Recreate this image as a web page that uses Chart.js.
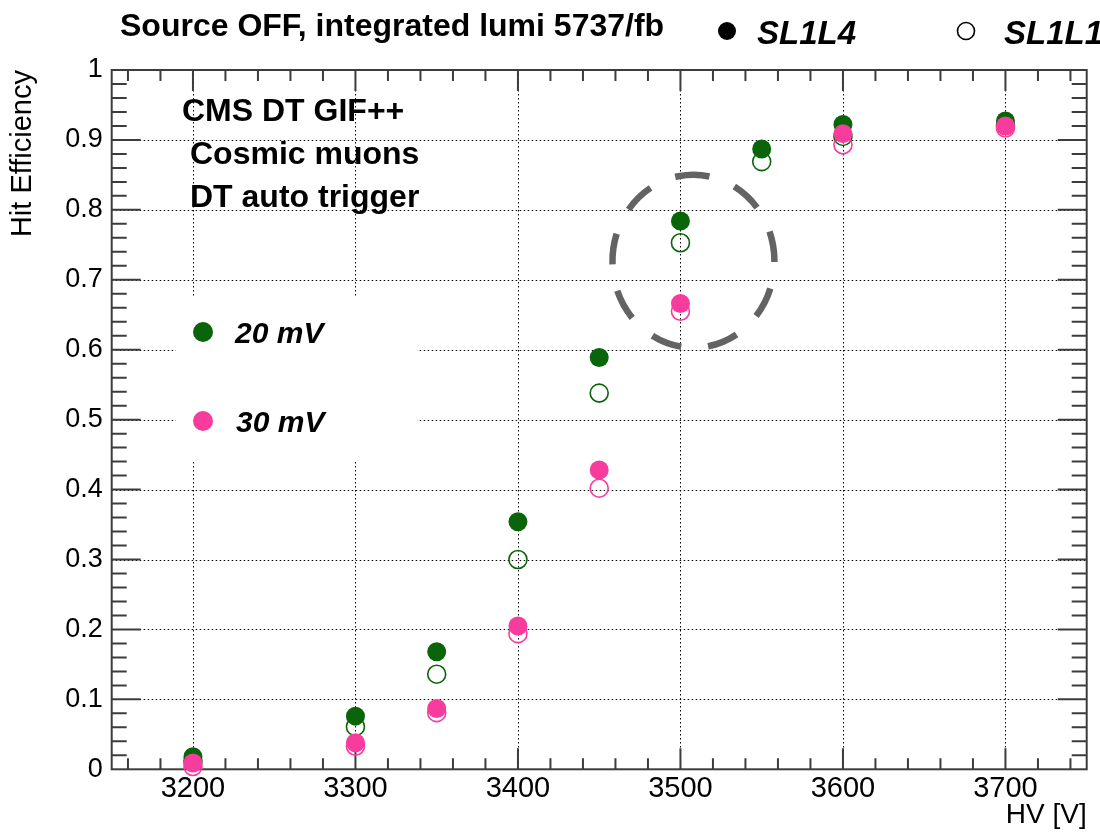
<!DOCTYPE html>
<html><head><meta charset="utf-8">
<script src="https://cdn.jsdelivr.net/npm/chart.js@4.4.0/dist/chart.umd.min.js"></script>
<style>html,body{margin:0;padding:0;background:#fff}#wrap{width:1100px;height:832px}</style>
</head><body><div id="wrap"><canvas id="c" width="1100" height="832"></canvas></div>
<script>
// ---- data ----
const hv20 = [3200, 3300, 3350, 3400, 3450, 3500, 3550, 3600, 3700];
const sl1l4_20mV = [0.018, 0.076, 0.168, 0.354, 0.589, 0.784, 0.887, 0.922, 0.927];
const sl1l1_20mV = [0.012, 0.061, 0.136, 0.300, 0.538, 0.753, 0.869, 0.905, 0.921];
const hv30 = [3200, 3300, 3350, 3400, 3450, 3500, 3600, 3700];
const sl1l4_30mV = [0.009, 0.038, 0.087, 0.205, 0.428, 0.666, 0.909, 0.920];
const sl1l1_30mV = [0.004, 0.033, 0.081, 0.194, 0.402, 0.655, 0.893, 0.917];
const xTicks = [3200, 3300, 3400, 3500, 3600, 3700];
const yTicks = [0, 0.1, 0.2, 0.3, 0.4, 0.5, 0.6, 0.7, 0.8, 0.9, 1];
const yTickLabels = ['0', '0.1', '0.2', '0.3', '0.4', '0.5', '0.6', '0.7', '0.8', '0.9', '1'];
const xRange = [3150, 3750];
const yRange = [0, 1];
const highlight = { hv: 3508, eff: 0.7265 };

const GREEN = '#0a650a';
const PINK = '#f83c9e';
const FONT = "'Liberation Sans', Arial, Helvetica, sans-serif";

const pts = (xs, ys) => xs.map((v, i) => ({ x: v, y: ys[i] }));

const rootPlugin = {
  id: 'rootStyle',
  beforeDatasetsDraw(chart) {
    const { ctx, chartArea: a, scales: { x, y } } = chart;
    ctx.save();
    // dotted grid
    ctx.strokeStyle = '#000';
    ctx.lineWidth = 1;
    ctx.setLineDash([1.5, 2.5]);
    ctx.beginPath();
    xTicks.forEach(v => {
      const px = Math.round(x.getPixelForValue(v)) + 0.5;
      ctx.moveTo(px, a.top); ctx.lineTo(px, a.bottom);
    });
    yTicks.forEach(v => {
      const py = Math.round(y.getPixelForValue(v)) + 0.5;
      ctx.moveTo(a.left, py); ctx.lineTo(a.right, py);
    });
    ctx.stroke();
    ctx.setLineDash([]);
    // white legend box hiding the grid
    ctx.fillStyle = '#fff';
    ctx.fillRect(176, 296, 241, 166);
    // frame
    ctx.strokeStyle = '#3c3c3c';
    ctx.lineWidth = 2;
    ctx.strokeRect(a.left, a.top, a.right - a.left, a.bottom - a.top);
    // inward ticks
    ctx.lineWidth = 2;
    ctx.beginPath();
    for (let v = 3160; v <= 3740; v += 20) {
      const px = x.getPixelForValue(v);
      const major = v % 100 === 0;
      const L = major ? 21 : 11;
      ctx.moveTo(px, a.bottom); ctx.lineTo(px, a.bottom - L);
      ctx.moveTo(px, a.top); ctx.lineTo(px, a.top + L);
    }
    for (let k = 1; k < 50; k++) {
      const py = y.getPixelForValue(k / 50);
      const major = k % 5 === 0;
      const L = major ? 29 : 15;
      ctx.moveTo(a.left, py); ctx.lineTo(a.left + L, py);
      ctx.moveTo(a.right, py); ctx.lineTo(a.right - L, py);
    }
    ctx.stroke();
    ctx.restore();
  },
  afterDatasetsDraw(chart) {
    const { ctx, scales: { x, y } } = chart;
    ctx.save();
    // dashed highlight ellipse
    const cx = x.getPixelForValue(highlight.hv), cy = y.getPixelForValue(highlight.eff);
    ctx.strokeStyle = '#636363';
    ctx.lineWidth = 6.5;
    ctx.setLineDash([31, 27]);
    const start = -Math.PI / 2 - 15.5 / 84;
    ctx.beginPath();
    ctx.ellipse(cx, cy, 81, 86.5, 0, start, start + 2 * Math.PI);
    ctx.stroke();
    ctx.setLineDash([]);
    // texts
    ctx.fillStyle = '#000';
    ctx.textBaseline = 'alphabetic';
    ctx.textAlign = 'left';
    ctx.font = 'bold 32px ' + FONT;
    ctx.fillText('Source OFF, integrated lumi 5737/fb', 120, 36);
    ctx.font = 'bold 32px ' + FONT;
    ctx.fillText('CMS DT GIF++', 182, 121);
    ctx.fillText('Cosmic muons', 190, 164);
    ctx.fillText('DT auto trigger', 190, 207);
    // header legend
    ctx.beginPath(); ctx.arc(727, 31, 9, 0, 2 * Math.PI); ctx.fill();
    ctx.font = 'italic bold 33px ' + FONT;
    ctx.fillText('SL1L4', 757, 44);
    ctx.strokeStyle = '#000'; ctx.lineWidth = 1.6;
    ctx.beginPath(); ctx.arc(966, 31, 8.5, 0, 2 * Math.PI); ctx.stroke();
    ctx.fillText('SL1L1', 1004, 44);
    // threshold legend
    ctx.fillStyle = GREEN;
    ctx.beginPath(); ctx.arc(203, 332, 10, 0, 2 * Math.PI); ctx.fill();
    ctx.fillStyle = PINK;
    ctx.beginPath(); ctx.arc(203, 421, 10, 0, 2 * Math.PI); ctx.fill();
    ctx.fillStyle = '#000';
    ctx.font = 'italic bold 30px ' + FONT;
    ctx.fillText('20 mV', 235, 343);
    ctx.fillText('30 mV', 236, 432);
    ctx.restore();
  }
};

new Chart(document.getElementById('c'), {
  type: 'scatter',
  data: {
    datasets: [
      { label: 'SL1L4 30 mV', data: pts(hv30, sl1l4_30mV), order: 0, clip: false,
        pointStyle: 'circle', pointRadius: 9.5, pointBackgroundColor: PINK, pointBorderColor: PINK, pointBorderWidth: 0 },
      { label: 'SL1L1 30 mV', data: pts(hv30, sl1l1_30mV), order: 1, clip: false,
        pointStyle: 'circle', pointRadius: 9, pointBackgroundColor: 'rgba(0,0,0,0)', pointBorderColor: PINK, pointBorderWidth: 1.6 },
      { label: 'SL1L4 20 mV', data: pts(hv20, sl1l4_20mV), order: 2, clip: false,
        pointStyle: 'circle', pointRadius: 9.5, pointBackgroundColor: GREEN, pointBorderColor: GREEN, pointBorderWidth: 0 },
      { label: 'SL1L1 20 mV', data: pts(hv20, sl1l1_20mV), order: 3, clip: false,
        pointStyle: 'circle', pointRadius: 9, pointBackgroundColor: 'rgba(0,0,0,0)', pointBorderColor: GREEN, pointBorderWidth: 1.6 }
    ]
  },
  options: {
    responsive: false,
    animation: false,
    events: [],
    layout: { padding: { left: 0, right: 13.3, top: 70, bottom: 0 } },
    plugins: { legend: { display: false }, tooltip: { enabled: false } },
    scales: {
      x: {
        type: 'linear', min: xRange[0], max: xRange[1],
        afterBuildTicks: s => { s.ticks = xTicks.map(v => ({ value: v })); },
        afterFit: s => { s.height = 62.7; },
        grid: { display: false, drawTicks: false },
        border: { display: false },
        ticks: { color: '#000', font: { family: FONT, size: 29 }, padding: 2, maxRotation: 0, autoSkip: false,
                 callback: v => String(v) },
        title: { display: true, text: 'HV [V]', align: 'end', color: '#000', font: { family: FONT, size: 28 }, padding: 0 }
      },
      y: {
        type: 'linear', min: yRange[0], max: yRange[1],
        afterBuildTicks: s => { s.ticks = yTicks.map(v => ({ value: v })); },
        afterFit: s => { s.width = 111.7; },
        grid: { display: false, drawTicks: false },
        border: { display: false },
        ticks: { color: '#000', font: { family: FONT, size: 27 }, padding: 9, autoSkip: false,
                 callback: (v, i) => yTickLabels[i] },
        title: { display: true, text: 'Hit Efficiency', align: 'end', color: '#000', font: { family: FONT, size: 29 }, padding: { top: 6, bottom: 0 } }
      }
    }
  },
  plugins: [rootPlugin]
});
</script>
</body></html>
